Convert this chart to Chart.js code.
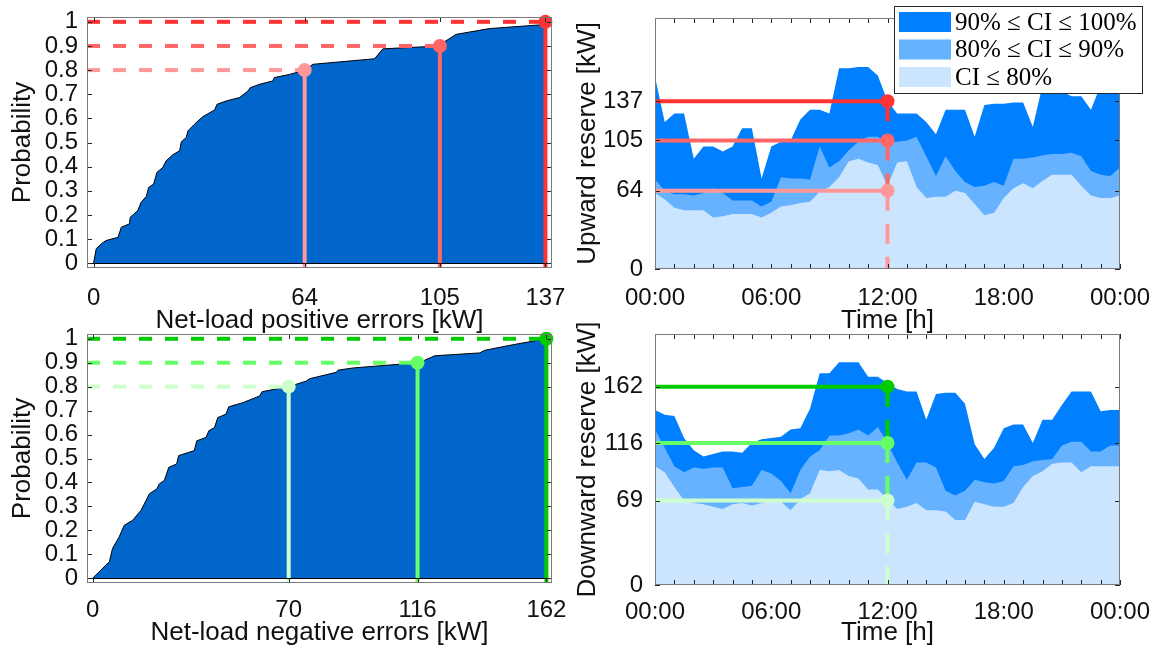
<!DOCTYPE html>
<html>
<head>
<meta charset="utf-8">
<script src="https://cdn.jsdelivr.net/npm/chart.js@4.4.1/dist/chart.umd.min.js"></script>
<style>
  body { margin: 0; background: #fff; }
  #fig { position: relative; width: 1151px; height: 648px; overflow: hidden; }
  canvas { position: absolute; }
</style>
</head>
<body>
<div id="fig">
  <canvas id="cdfPos" width="575" height="336" style="left:0;top:0"></canvas>
  <canvas id="resUp" width="581" height="336" style="left:570px;top:0"></canvas>
  <canvas id="cdfNeg" width="575" height="330" style="left:0;top:318px"></canvas>
  <canvas id="resDown" width="581" height="330" style="left:570px;top:318px"></canvas>
</div>
<script>
//Curva de probabilidade dos erros positivos
const posErr = [0, 0.8, 2.6, 3.8, 7.4, 8.4, 10.9, 11.1, 13.4, 14.4, 16.0, 16.7, 18.2, 19.2, 21.0, 22.0, 24.0, 26.1, 26.6, 28.1, 28.6, 30.6, 33.1, 36.7, 37.4, 40.2, 44.2, 46.8, 47.5, 50.3, 54.3, 54.8, 59.4, 64, 66.5, 85.2, 87.7, 105, 105.9, 109.9, 120, 136, 137];
const posProb = [0, 0.06, 0.083, 0.094, 0.107, 0.149, 0.163, 0.19, 0.218, 0.252, 0.277, 0.314, 0.328, 0.376, 0.397, 0.424, 0.449, 0.466, 0.503, 0.521, 0.548, 0.576, 0.607, 0.635, 0.658, 0.672, 0.686, 0.713, 0.727, 0.741, 0.755, 0.769, 0.782, 0.8, 0.824, 0.847, 0.888, 0.9, 0.913, 0.948, 0.972, 0.988, 1];
//Curva de probabilidade dos erros negativos
const negErr = [0, 6.0, 7.1, 9.5, 11.3, 14.3, 17.3, 20.3, 22.9, 23.8, 25.6, 27.2, 30.0, 30.7, 36.3, 37.2, 40.5, 41.5, 43.5, 44.7, 47.6, 48.6, 53.6, 59.6, 60.5, 66.7, 70, 76.2, 77.4, 87.0, 87.6, 92.9, 116, 118.5, 122.1, 138.2, 140, 150, 162];
const negProb = [0, 0.069, 0.124, 0.173, 0.221, 0.242, 0.284, 0.353, 0.373, 0.394, 0.408, 0.463, 0.477, 0.512, 0.533, 0.574, 0.588, 0.616, 0.629, 0.671, 0.685, 0.716, 0.733, 0.761, 0.779, 0.793, 0.8, 0.823, 0.833, 0.860, 0.869, 0.878, 0.9, 0.910, 0.929, 0.941, 0.952, 0.975, 1];

//Niveis de confianca e reservas
const levelProb = [0.8, 0.9, 1];
const posLevels = [64, 105, 137];
const negLevels = [70, 116, 162];
const upLevels = [64, 105, 137];
const downLevels = [69, 116, 162];
const probTicks = [0, 0.1, 0.2, 0.3, 0.4, 0.5, 0.6, 0.7, 0.8, 0.9, 1];

//Eixo do tempo (horas) e rotulos
const hours = [0, 0.5, 1, 1.5, 2, 2.5, 3, 3.5, 4, 4.5, 5, 5.5, 6, 6.5, 7, 7.5, 8, 8.5, 9, 9.5, 10, 10.5, 11, 11.5, 12, 12.5, 13, 13.5, 14, 14.5, 15, 15.5, 16, 16.5, 17, 17.5, 18, 18.5, 19, 19.5, 20, 20.5, 21, 21.5, 22, 22.5, 23, 23.5, 24];
const timeLabels = ['00:00', '06:00', '12:00', '18:00', '00:00'];
const markHour = 12;

//Reserva para cima
const up100 = [157, 120, 127, 127, 90, 100, 100, 96, 100, 115, 115, 74, 100, 104, 105, 122, 130, 130, 127, 164, 164, 165, 165, 158, 137, 127, 127, 127, 120, 110, 130, 130, 130, 108, 134, 135, 135, 136, 136, 116, 150, 150, 145, 141, 141, 130, 150, 155, 155];
const up90 = [73, 64, 61, 61, 60, 62, 66, 62, 56, 56, 56, 51, 55, 75, 74, 74, 73, 100, 83, 88, 97, 104, 108, 108, 103, 104, 105, 108, 92, 76, 92, 80, 71, 67, 68, 71, 68, 90, 90, 91, 93, 94, 94, 95, 92, 80, 77, 76, 83];
const up80 = [62, 57, 50, 48, 48, 48, 42, 43, 45, 45, 45, 42, 46, 51, 52, 54, 55, 63, 67, 75, 88, 90, 87, 85, 68, 87, 88, 67, 58, 59, 59, 64, 62, 53, 44, 46, 58, 66, 70, 66, 72, 77, 77, 77, 68, 60, 58, 58, 60];
//Reserva para baixo
const dn100 = [143, 139, 138, 120, 110, 105, 107, 109, 109, 108, 116, 119, 120, 121, 127, 128, 144, 173, 173, 182, 182, 182, 170, 170, 165, 160, 158, 158, 135, 156, 157, 157, 148, 115, 103, 112, 128, 131, 131, 116, 135, 135, 147, 158, 158, 158, 142, 143, 143];
const dn90 = [127, 112, 97, 92, 96, 95, 96, 96, 79, 80, 81, 94, 91, 85, 75, 94, 105, 110, 122, 122, 124, 127, 122, 129, 116, 100, 86, 100, 100, 96, 77, 73, 77, 86, 84, 83, 85, 97, 98, 101, 102, 103, 114, 117, 117, 109, 109, 114, 114];
const dn80 = [97, 92, 80, 69, 67, 66, 64, 62, 66, 67, 65, 67, 69, 68, 61, 70, 75, 94, 93, 94, 89, 87, 78, 78, 70, 62, 64, 67, 61, 61, 60, 53, 53, 68, 66, 64, 64, 67, 80, 89, 93, 99, 100, 100, 92, 97, 97, 97, 97];

const legendLabels = ['90% \u2264 CI \u2264 100%', '80% \u2264 CI \u2264 90%', 'CI \u2264 80%'];
const bandColors = ['#007FFF', '#66B2FF', '#CCE5FF'];
const redColors = ['#FF9999', '#FF6666', '#FF3333'];
const greenColors = ['#CCFFCC', '#66FF66', '#00CC00'];

Chart.defaults.font.family = '"Liberation Sans", Arial, sans-serif';
Chart.defaults.color = '#111';

//Zera o padding automatico e fixa o tamanho do eixo
const fixaEixo = (s, tam) => {
  if (s.isHorizontal()) s.height = tam;
  else s.width = tam;
  s.paddingLeft = 0;
  s.paddingRight = 0;
  s.paddingTop = 0;
  s.paddingBottom = 0;
};

//Caixa do eixo com marcas para dentro (estilo matlab)
const caixa = {
  id: 'caixa',
  afterDatasetsDraw(chart, args, opts) {
    const { ctx, chartArea: a, scales: { x, y } } = chart;
    ctx.save();
    if (opts.baseline) {
      const py = Math.round(y.getPixelForValue(0)) + 0.5;
      ctx.strokeStyle = '#000';
      ctx.lineWidth = 1;
      ctx.beginPath();
      ctx.moveTo(a.left, py);
      ctx.lineTo(a.right, py);
      ctx.stroke();
    }
    ctx.strokeStyle = '#262626';
    ctx.lineWidth = 1;
    ctx.beginPath();
    x.ticks.forEach((t) => {
      const px = Math.round(x.getPixelForValue(t.value)) + 0.5;
      ctx.moveTo(px, a.bottom);
      ctx.lineTo(px, a.bottom - 5);
      ctx.moveTo(px, a.top);
      ctx.lineTo(px, a.top + 5);
    });
    y.ticks.forEach((t) => {
      const py = Math.round(y.getPixelForValue(t.value)) + 0.5;
      ctx.moveTo(a.left, py);
      ctx.lineTo(a.left + 5, py);
      ctx.moveTo(a.right, py);
      ctx.lineTo(a.right - 5, py);
    });
    ctx.stroke();
    ctx.strokeStyle = '#7a7a7a';
    ctx.strokeRect(Math.round(a.left) + 0.5, Math.round(a.top) + 0.5, Math.round(a.width) - 1, Math.round(a.height) - 1);
    ctx.restore();
  },
};

//Legenda desenhada por cima do grafico
const legenda = {
  id: 'legenda',
  afterDraw(chart) {
    const { ctx, chartArea: a } = chart;
    const x0 = Math.round(a.right) - 226;
    const y0 = Math.round(a.top) - 12;
    ctx.save();
    ctx.fillStyle = '#fff';
    ctx.fillRect(x0, y0, 248, 87);
    ctx.strokeStyle = '#262626';
    ctx.lineWidth = 1;
    ctx.strokeRect(x0 + 0.5, y0 + 0.5, 248, 87);
    ctx.font = '25px "Liberation Serif", serif';
    ctx.textBaseline = 'middle';
    legendLabels.forEach((txt, i) => {
      const cy = y0 + 16 + i * 27.5;
      ctx.fillStyle = bandColors[i];
      ctx.fillRect(x0 + 5, cy - 10, 52, 20);
      ctx.fillStyle = '#000';
      ctx.fillText(txt, x0 + 61, cy + 1);
    });
    ctx.restore();
  },
};

//Datasets do grafico de probabilidade
const cdfDatasets = (errs, probs, levels, cores, xMin, yMin) => {
  const sets = [{
    data: errs.map((e, i) => ({ x: e, y: probs[i] })),
    fill: 'origin',
    backgroundColor: '#0066CC',
    borderColor: '#000',
    borderWidth: 1,
    pointRadius: 0,
    order: 10,
  }];
  levels.forEach((lv, i) => {
    sets.push({
      data: [{ x: xMin, y: levelProb[i] }, { x: lv, y: levelProb[i] }],
      borderColor: cores[i],
      borderWidth: 4,
      borderDash: [13, 13],
      pointRadius: 0,
      clip: false,
      order: 6,
    });
    sets.push({
      data: [{ x: lv, y: levelProb[i] }, { x: lv, y: yMin }],
      borderColor: cores[i],
      borderWidth: 4,
      pointRadius: [7, 0],
      pointBackgroundColor: cores[i],
      pointBorderWidth: 0,
      clip: false,
      order: 4 - i,
    });
  });
  return sets;
};

//Datasets do grafico de reserva
const reservaDatasets = (s100, s90, s80, levels, cores) => {
  const sets = [s100, s90, s80].map((serie, k) => ({
    data: hours.map((h, i) => ({ x: h, y: serie[i] })),
    fill: 'origin',
    backgroundColor: bandColors[k],
    borderColor: 'rgba(0,0,0,0)',
    borderWidth: 1,
    pointRadius: 0,
    order: 30 - k * 10,
  }));
  levels.forEach((lv, i) => {
    sets.push({
      data: [{ x: markHour, y: lv }, { x: markHour, y: i === 0 ? 0 : levels[i - 1] }],
      borderColor: cores[i],
      borderWidth: 4,
      borderDash: [20, 13],
      pointRadius: 0,
      clip: false,
      order: 6,
    });
    sets.push({
      data: [{ x: 0, y: lv }, { x: markHour, y: lv }],
      borderColor: cores[i],
      borderWidth: 4,
      pointRadius: [0, 7],
      pointBackgroundColor: cores[i],
      pointBorderWidth: 0,
      clip: false,
      order: 4 - i,
    });
  });
  return sets;
};

const baseOptions = () => ({
  responsive: false,
  animation: false,
  events: [],
  plugins: { legend: { display: false }, tooltip: { enabled: false } },
});

const semGrade = { display: false, drawTicks: false };

//Grafico de probabilidade acumulada
const graficoCdf = (id, errs, probs, levels, cores, xMax, titulo, padTop, xHeight, xPad) => {
  const opts = baseOptions();
  opts.layout = { padding: { top: padTop, right: 23, left: 0, bottom: 0 } };
  opts.plugins.caixa = { baseline: true };
  opts.scales = {
    x: {
      type: 'linear', min: -2, max: xMax,
      grid: semGrade, border: { display: false },
      afterBuildTicks: (s) => { s.ticks = [0].concat(levels).map((v) => ({ value: v })); },
      afterFit: (s) => fixaEixo(s, xHeight),
      ticks: { padding: xPad, maxRotation: 0, autoSkip: false, font: { size: 24 }, callback: (v) => String(v) },
      title: { display: true, text: titulo, font: { size: 26 }, padding: { top: 0, bottom: 0 } },
    },
    y: {
      type: 'linear', min: -0.02, max: 1.02,
      grid: semGrade, border: { display: false },
      afterBuildTicks: (s) => { s.ticks = probTicks.map((v) => ({ value: v })); },
      afterFit: (s) => fixaEixo(s, 87),
      ticks: { padding: 9, autoSkip: false, font: { size: 24 }, callback: (v) => String(v) },
      title: { display: true, text: 'Probability', font: { size: 26 }, padding: { top: 7, bottom: 0 } },
    },
  };
  return new Chart(document.getElementById(id).getContext('2d'), {
    type: 'line',
    data: { datasets: cdfDatasets(errs, probs, levels, cores, -2, -0.02) },
    options: opts,
    plugins: [caixa],
  });
};

//Grafico de reserva no tempo
const graficoReserva = (id, s100, s90, s80, levels, cores, titulo, padTop, xHeight, xPad, comLegenda) => {
  const opts = baseOptions();
  opts.layout = { padding: { top: padTop, right: 31, left: 0, bottom: 0 } };
  opts.plugins.caixa = { baseline: false };
  opts.scales = {
    x: {
      type: 'linear', min: 0, max: 24,
      grid: semGrade, border: { display: false },
      afterFit: (s) => fixaEixo(s, xHeight),
      ticks: {
        stepSize: 1, padding: xPad, maxRotation: 0, minRotation: 0, autoSkip: false, font: { size: 24 },
        callback: (v) => (v % 6 === 0 ? timeLabels[v / 6] : ''),
      },
      title: { display: true, text: 'Time [h]', font: { size: 26 }, padding: { top: 0, bottom: 0 } },
    },
    y: {
      type: 'linear', min: 0, max: 205,
      grid: semGrade, border: { display: false },
      afterBuildTicks: (s) => { s.ticks = [0].concat(levels).map((v) => ({ value: v })); },
      afterFit: (s) => fixaEixo(s, 85),
      ticks: { padding: 12, autoSkip: false, font: { size: 24 }, callback: (v) => String(v) },
      title: { display: true, text: titulo, font: { size: 26 }, padding: { top: 2, bottom: 0 } },
    },
  };
  return new Chart(document.getElementById(id).getContext('2d'), {
    type: 'line',
    data: { datasets: reservaDatasets(s100, s90, s80, levels, cores) },
    options: opts,
    plugins: comLegenda ? [caixa, legenda] : [caixa],
  });
};

graficoCdf('cdfPos', posErr, posProb, posLevels, redColors, 139, 'Net-load positive errors [kW]', 17, 68, 16);
graficoCdf('cdfNeg', negErr, negProb, negLevels, greenColors, 164, 'Net-load negative errors [kW]', 16, 65, 13);
graficoReserva('resUp', up100, up90, up80, upLevels, redColors, 'Upward reserve [kW]', 18, 67, 15, true);
graficoReserva('resDown', dn100, dn90, dn80, downLevels, greenColors, 'Downward reserve [kW]', 16, 63, 13, false);
</script>
</body>
</html>
